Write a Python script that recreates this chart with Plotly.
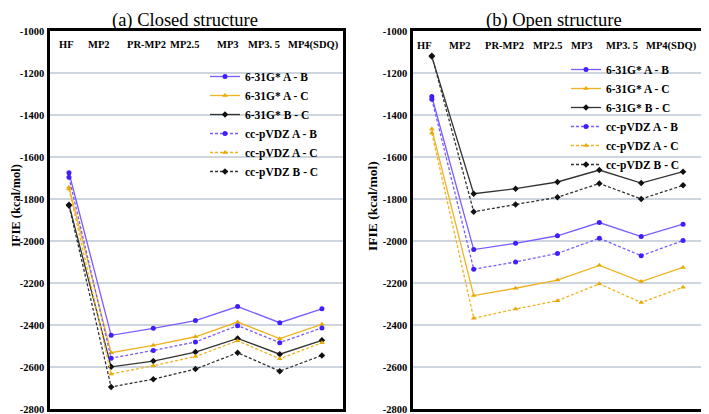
import plotly.graph_objects as go

methods = ["HF", "MP2", "PR-MP2", "MP2.5", "MP3", "MP3. 5", "MP4(SDQ)"]
series_names = ["6-31G* A - B", "6-31G* A - C", "6-31G* B - C",
                "cc-pVDZ A - B", "cc-pVDZ A - C", "cc-pVDZ B - C"]

# (a) Closed structure
closed_631_AB = [-1675, -2449, -2416, -2379, -2312, -2389, -2323]
closed_631_AC = [-1744, -2532, -2497, -2456, -2386, -2465, -2397]
closed_631_BC = [-1827, -2599, -2572, -2529, -2464, -2539, -2473]
closed_cc_AB = [-1697, -2558, -2521, -2481, -2403, -2484, -2414]
closed_cc_AC = [-1752, -2633, -2594, -2550, -2475, -2561, -2484]
closed_cc_BC = [-1831, -2695, -2658, -2610, -2532, -2620, -2545]

# (b) Open structure
open_631_AB = [-1312, -2041, -2011, -1975, -1912, -1979, -1920]
open_631_AC = [-1467, -2260, -2225, -2186, -2116, -2193, -2126]
open_631_BC = [-1122, -1775, -1751, -1719, -1662, -1724, -1670]
open_cc_AB = [-1325, -2134, -2100, -2059, -1987, -2070, -1998]
open_cc_AC = [-1486, -2368, -2324, -2284, -2204, -2293, -2220]
open_cc_BC = [-1118, -1861, -1826, -1792, -1726, -1800, -1735]

y_ticks = [-1000, -1200, -1400, -1600, -1800, -2000, -2200, -2400, -2600, -2800]

W, H = 709, 414
OFF = 8  # page body margin in the browser
SERIF = "Liberation Serif, Times New Roman, serif"

line_colors = ["#7a5cff", "#f0b323", "#333333"] * 2
marker_colors = ["#3f1fff", "#e8a800", "#111111"] * 2
symbols = ["circle", "triangle-up", "diamond"] * 2
dashes = ["solid"] * 3 + ["3px,2px"] * 3

# horizontal nudges (px) of the method labels inside the top of each panel
label_shift_a = [-2, -12, -7, -11, -10, -16, -8]
label_shift_b = [-7, -14, -11, -10, -17, -19, -12]

closed = [closed_631_AB, closed_631_AC, closed_631_BC, closed_cc_AB, closed_cc_AC, closed_cc_BC]
opened = [open_631_AB, open_631_AC, open_631_BC, open_cc_AB, open_cc_AC, open_cc_BC]

fig = go.Figure()
for data, xa, ya, leg in [(closed, "x", "y", "legend"), (opened, "x2", "y2", "legend2")]:
    for i, vals in enumerate(data):
        fig.add_trace(go.Scatter(
            x=methods, y=vals, xaxis=xa, yaxis=ya, name=series_names[i],
            mode="lines+markers", legend=leg,
            line=dict(color=line_colors[i], width=1.3, dash=dashes[i]),
            marker=dict(color=marker_colors[i], symbol=symbols[i], size=5),
        ))


def px2x(p):
    return (p - OFF) / W


def px2y(p):
    return 1 - (p - OFF) / H


ydom = [px2y(409), px2y(31)]
axis_common_x = dict(
    type="category", categoryorder="array", categoryarray=methods,
    range=[-0.45, 6.5], showticklabels=False, automargin=False,
    showgrid=False, zeroline=False, ticks="",
    showline=True, linecolor="black", linewidth=2.5, mirror=True,
)
axis_common_y = dict(
    range=[-2800, -1000], tickvals=y_ticks, ticktext=[str(v) for v in y_ticks],
    automargin=False, ticklabelstandoff=1,
    showgrid=True, gridcolor="#cdd6de", gridwidth=1.5, zeroline=False,
    showline=True, linecolor="black", linewidth=2.5, mirror=True, ticks="",
    tickfont=dict(family=SERIF, size=10.5, color="black", weight="bold"),
)

label_font = dict(family=SERIF, size=10.5, color="black", weight="bold")
annotations = []
for xref, shifts, ypx in [("x", label_shift_a, 45), ("x2", label_shift_b, 46)]:
    for m, s in zip(methods, shifts):
        annotations.append(dict(text=m, x=m, xref=xref, y=px2y(ypx), yref="paper",
                                xanchor="center", yanchor="middle",
                                xshift=s, showarrow=False, font=label_font))

annotations += [
    dict(text="(a) Closed structure", x=px2x(185), y=1, xref="paper", yref="paper",
         xanchor="center", yanchor="top",
         showarrow=False, font=dict(family=SERIF, size=18.5, color="black")),
    dict(text="(b) Open structure", x=px2x(554), y=1, xref="paper", yref="paper",
         xanchor="center", yanchor="top",
         showarrow=False, font=dict(family=SERIF, size=18.5, color="black")),
    dict(text="IFIE (kcal/mol)", x=0, y=px2y(206), xref="paper", yref="paper",
         xanchor="left", yanchor="middle", borderpad=0,
         textangle=-90, showarrow=False,
         font=dict(family=SERIF, size=12.5, color="black", weight="bold")),
    dict(text="IFIE (kcal/mol)", x=px2x(372), y=px2y(206), xref="paper", yref="paper",
         xanchor="center", yanchor="middle",
         textangle=-90, showarrow=False,
         font=dict(family=SERIF, size=13.5, color="black", weight="bold")),
]

legend_font = dict(family=SERIF, size=11.5, color="black", weight="bold")
fig.update_layout(
    width=W, height=H,
    margin=dict(l=0, r=0, t=0, b=0, autoexpand=False),
    paper_bgcolor="white", plot_bgcolor="white",
    showlegend=True,
    xaxis=dict(domain=[px2x(50), px2x(343)], anchor="y", **axis_common_x),
    yaxis=dict(domain=ydom, anchor="x", **axis_common_y),
    xaxis2=dict(domain=[px2x(413), px2x(704)], anchor="y2", **axis_common_x),
    yaxis2=dict(domain=ydom, anchor="x2", **axis_common_y),
    legend=dict(x=px2x(205), y=px2y(62), xanchor="left", yanchor="top",
                bgcolor="rgba(0,0,0,0)", tracegroupgap=0, font=legend_font),
    legend2=dict(x=px2x(566), y=px2y(55), xanchor="left", yanchor="top",
                 bgcolor="rgba(0,0,0,0)", tracegroupgap=0, font=legend_font),
    annotations=annotations,
)

fig.write_html("out.html")
